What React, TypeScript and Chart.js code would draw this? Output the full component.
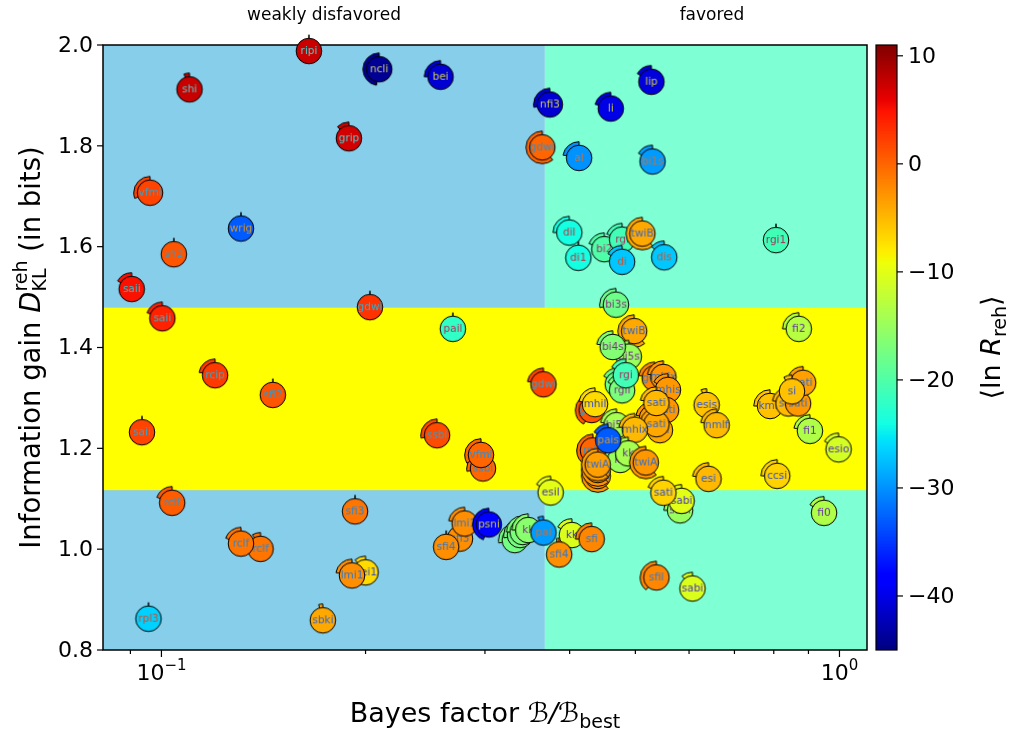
import React, { useEffect, useRef } from 'react';
import { Chart, registerables } from 'chart.js';
Chart.register(...registerables);

// ---------------- data ----------------
const modelLabels = [
  'ripi', 'shi', 'grip', 'ncli', 'bei', 'nfi3', 'li', 'lip', 'gdwi', 'al',
  'bi1s', 'vfmi', 'wrig', 'sfi2', 'saii', 'dil', 'di1', 'bi2', 'rgi', 'di',
  'twiB', 'dis', 'rgi1', 'gdwi', 'saii', 'bi3s', 'pail', 'rcip', 'sfi2', 'saii',
  'gdwi', 'ssbi', 'ssbi', 'vfmi', 'twiB', 'bi5s', 'bi4s', 'rgii', 'rgii', 'rgi',
  'gdwi', 'mhix', 'mhis', 'sati', 'sati', 'sati', 'sati', 'sati', 'gdwi', 'mhil',
  'bi5s', 'mhix', 'rcip', 'twiA', 'twiA', 'kk', 'kk', 'pais', 'twiA', 'twiA',
  'fi2', 'esis', 'nmlf', 'kmlf', 'sati', 'sati', 'sati', 'si', 'fi1', 'esio',
  'esi', 'ccsi', 'esil', 'sabi', 'sabi', 'sati', 'fi0', 'rclf', 'sfi3', 'rclf',
  'rclf', 'pei1', 'lmi1', 'rpl3', 'sbki', 'sfi3', 'lmi1', 'sfi4', 'psni', 'kk',
  'kk', 'kk', 'kk', 'pai', 'kk', 'sfi', 'sfi4', 'sfil', 'sabi',
];
const bayesFactor = [
  0.165, 0.110, 0.189, 0.2095, 0.258, 0.374, 0.460, 0.528, 0.3645, 0.413,
  0.530, 0.0962, 0.131, 0.1043, 0.0904, 0.3995, 0.412, 0.450, 0.478, 0.478,
  0.512, 0.5515, 0.806, 0.203, 0.1003, 0.468, 0.269, 0.120, 0.146, 0.0936,
  0.366, 0.255, 0.298, 0.296, 0.498, 0.489, 0.463, 0.471, 0.478, 0.484,
  0.534, 0.550, 0.5585, 0.555, 0.529, 0.5435, 0.537, 0.537, 0.431, 0.436,
  0.469, 0.499, 0.433, 0.440, 0.440, 0.475, 0.488, 0.456, 0.440, 0.518,
  0.871, 0.637, 0.659, 0.790, 0.841, 0.869, 0.884, 0.851, 0.9045, 0.997,
  0.641, 0.8095, 0.375, 0.582, 0.585, 0.550, 0.949, 0.1037, 0.193, 0.140,
  0.131, 0.200, 0.191, 0.0957, 0.173, 0.2756, 0.280, 0.263, 0.304, 0.332,
  0.338, 0.341, 0.3475, 0.366, 0.403, 0.431, 0.386, 0.537, 0.607,
];
const infoGain = [
  1.988, 1.912, 1.815, 1.952, 1.937, 1.882, 1.874, 1.927, 1.797, 1.776,
  1.769, 1.707, 1.636, 1.585, 1.516, 1.628, 1.578, 1.595, 1.614, 1.570,
  1.626, 1.579, 1.613, 1.480, 1.458, 1.485, 1.437, 1.345, 1.306, 1.232,
  1.327, 1.226, 1.160, 1.187, 1.4325, 1.382, 1.401, 1.327, 1.315, 1.345,
  1.339, 1.3415, 1.316, 1.276, 1.260, 1.236, 1.248, 1.290, 1.276, 1.2877,
  1.246, 1.237, 1.196, 1.145, 1.157, 1.177, 1.190, 1.216, 1.1677, 1.172,
  1.437, 1.286, 1.246, 1.284, 1.289, 1.289, 1.330, 1.313, 1.2347, 1.198,
  1.1395, 1.1454, 1.1125, 1.077, 1.0958, 1.112, 1.072, 1.092, 1.075, 1.0006,
  1.011, 0.954, 0.948, 0.862, 0.859, 1.021, 1.051, 1.0046, 1.049, 1.018,
  1.028, 1.034, 1.038, 1.033, 1.028, 1.020, 0.9895, 0.944, 0.922,
];
const lnRreh = [
  7.5, 7.5, 7, -44, -41, -41, -40, -40.5, 0, -30,
  -29.5, 2, -33, 1, 5, -24, -24, -20, -21, -27,
  -4, -27, -21, 3, 4, -18, -22, 2.5, 1, 2,
  2, 1.5, 0, 0, -4, -15, -16.5, -18, -17, -21,
  -2, -3, -3, -3, -3, -4, -4, -5, 1, -7,
  -14, -5, 0, -3, -3, -15, -14, -33, -3.5, -3,
  -13, -5.5, -5, -5.5, -5, -3, -3.5, -5.5, -13.5, -11,
  -5, -6.5, -10, -15, -10, -6.5, -13.5, 0.5, -1, -1,
  -1, -7, -2.5, -26.5, -4, -2.5, -2.5, -2.5, -38, -17.5,
  -17.5, -17, -16, -29.5, -10.5, -2, -2.5, -2, -10.5,
];
const wedgeDeg = [
  0, 20, 45, 170, 90, 100, 75, 60, 220, 80,
  60, 110, 0, 0, 60, 90, 0, 70, 70, 60,
  220, 50, 0, 0, 70, 100, 0, 80, 0, 0,
  80, 100, 100, 120, 220, 80, 80, 60, 60, 60,
  80, 80, 60, 60, 80, 60, 80, 80, 150, 80,
  80, 80, 150, 220, 220, 80, 80, 60, 220, 220,
  90, 20, 80, 90, 80, 60, 60, 30, 80, 60,
  80, 90, 60, 90, 60, 70, 60, 70, 0, 30,
  70, 40, 80, 0, 15, 0, 80, 0, 160, 100,
  100, 90, 90, 20, 60, 90, 10, 140, 40,
];

const xMajorTicks = [0.1, 1];
const xMajorTickLabels = ['\u22121', '0'];
const xMinorTicks = [0.09, 0.2, 0.3, 0.4, 0.5, 0.6, 0.7, 0.8, 0.9];
const yTicks = [0.8, 1.0, 1.2, 1.4, 1.6, 1.8, 2.0];
const cbTicks = [10, 0, -10, -20, -30, -40];
const regionSplitBF = 0.3677;
const yellowBand = [1.117, 1.479];
const regionTitles = ['weakly disfavored', 'favored'];

const X_MIN = 0.082, X_MAX = 1.098, Y_MIN = 0.8, Y_MAX = 2.0, C_MIN = -45, C_MAX = 11;

// ---------------- colormap ----------------
const JR = [[0, 0], [0.35, 0], [0.66, 1], [0.89, 1], [1, 0.5]];
const JG = [[0, 0], [0.125, 0], [0.375, 1], [0.64, 1], [0.91, 0], [1, 0]];
const JB = [[0, 0.5], [0.11, 1], [0.34, 1], [0.65, 0], [1, 0]];
function seg(p: number[][], t: number) {
  if (t <= p[0][0]) return p[0][1];
  for (let i = 1; i < p.length; i++) {
    if (t <= p[i][0]) {
      const [x0, y0] = p[i - 1];
      const [x1, y1] = p[i];
      return y0 + ((t - x0) / (x1 - x0)) * (y1 - y0);
    }
  }
  return p[p.length - 1][1];
}
function jet(v: number): [number, number, number] {
  const t = Math.min(1, Math.max(0, (v - C_MIN) / (C_MAX - C_MIN)));
  return [Math.round(seg(JR, t) * 255), Math.round(seg(JG, t) * 255), Math.round(seg(JB, t) * 255)];
}

const FONT = '"DejaVu Sans", "Liberation Sans", sans-serif';

function makeMarker(label: string, v: number, deg: number) {
  const S = 42;
  const c = document.createElement('canvas');
  c.width = S;
  c.height = S;
  const ctx = c.getContext('2d')!;
  const cx = S / 2, cy = S / 2, r = 12.8, R = 16.3;
  const [rr, gg, bb] = jet(v);
  const fill = `rgb(${rr},${gg},${bb})`;
  ctx.lineWidth = 1;
  ctx.strokeStyle = '#000';
  const a0 = -Math.PI / 2;
  const a1 = a0 - (deg * Math.PI) / 180;
  ctx.beginPath();
  ctx.moveTo(cx, cy);
  if (deg > 0) ctx.arc(cx, cy, R, a0, a1, true);
  else ctx.lineTo(cx, cy - R);
  ctx.closePath();
  ctx.fillStyle = fill;
  ctx.fill();
  ctx.stroke();
  ctx.beginPath();
  ctx.arc(cx, cy, r, 0, Math.PI * 2);
  ctx.fillStyle = fill;
  ctx.fill();
  ctx.stroke();
  const mix = (a: number, b: number) => Math.round(a * 0.8 + b * 0.2);
  ctx.fillStyle = `rgb(${mix(255 - rr, rr)},${mix(255 - gg, gg)},${mix(255 - bb, bb)})`;
  ctx.font = `10.5px ${FONT}`;
  ctx.textAlign = 'center';
  ctx.textBaseline = 'middle';
  ctx.fillText(label, cx, cy + 0.5);
  return c;
}

type Piece = { t: string; size: number; dy: number; italic?: boolean; stackWith?: Piece };
function pieceWidth(ctx: CanvasRenderingContext2D, p: Piece) {
  ctx.font = `${p.italic ? 'oblique ' : ''}${p.size}px ${FONT}`;
  let w = ctx.measureText(p.t).width;
  if (p.stackWith) {
    ctx.font = `${p.stackWith.italic ? 'oblique ' : ''}${p.stackWith.size}px ${FONT}`;
    w = Math.max(w, ctx.measureText(p.stackWith.t).width);
  }
  return w;
}
function drawPieces(ctx: CanvasRenderingContext2D, pieces: Piece[], cx: number, baseY: number) {
  const widths = pieces.map((p) => pieceWidth(ctx, p));
  const total = widths.reduce((a, b) => a + b, 0);
  let x = cx - total / 2;
  ctx.textAlign = 'left';
  ctx.textBaseline = 'alphabetic';
  pieces.forEach((p, i) => {
    ctx.font = `${p.italic ? 'oblique ' : ''}${p.size}px ${FONT}`;
    ctx.fillText(p.t, x, baseY + p.dy);
    if (p.stackWith) {
      const q = p.stackWith;
      ctx.font = `${q.italic ? 'oblique ' : ''}${q.size}px ${FONT}`;
      ctx.fillText(q.t, x, baseY + q.dy);
    }
    x += widths[i];
  });
}

const decorPlugin = {
  id: 'decor',
  beforeDatasetsDraw(chart: any) {
    const ctx: CanvasRenderingContext2D = chart.ctx;
    const { left, right, top, bottom } = chart.chartArea;
    const xs = chart.scales.x, ys = chart.scales.y, cs = chart.scales.cb;
    ctx.save();
    // backgrounds
    const xSplit = xs.getPixelForValue(regionSplitBF);
    ctx.fillStyle = 'rgb(135,206,235)';
    ctx.fillRect(left, top, xSplit - left, bottom - top);
    ctx.fillStyle = 'rgb(127,255,212)';
    ctx.fillRect(xSplit, top, right - xSplit, bottom - top);
    const yb0 = ys.getPixelForValue(yellowBand[1]);
    const yb1 = ys.getPixelForValue(yellowBand[0]);
    ctx.fillStyle = 'rgb(255,255,0)';
    ctx.fillRect(left, yb0, right - left, yb1 - yb0);
    // frame
    ctx.strokeStyle = '#000';
    ctx.lineWidth = 1.5;
    ctx.strokeRect(left, top, right - left, bottom - top);
    // y ticks
    ctx.fillStyle = '#000';
    ctx.lineWidth = 1.2;
    ctx.font = `22px ${FONT}`;
    ctx.textAlign = 'right';
    ctx.textBaseline = 'middle';
    yTicks.forEach((v) => {
      const y = ys.getPixelForValue(v);
      ctx.beginPath();
      ctx.moveTo(left, y);
      ctx.lineTo(left - 6, y);
      ctx.stroke();
      ctx.fillText(v.toFixed(1), left - 10, y + 1);
    });
    // x ticks
    xMinorTicks.forEach((v) => {
      const x = xs.getPixelForValue(v);
      ctx.beginPath();
      ctx.moveTo(x, bottom);
      ctx.lineTo(x, bottom + 4);
      ctx.stroke();
    });
    xMajorTicks.forEach((v, i) => {
      const x = xs.getPixelForValue(v);
      ctx.beginPath();
      ctx.moveTo(x, bottom);
      ctx.lineTo(x, bottom + 7);
      ctx.stroke();
      drawPieces(ctx, [
        { t: '10', size: 22, dy: 0 },
        { t: xMajorTickLabels[i], size: 15, dy: -10 },
      ], x, bottom + 30);
    });
    // axis labels
    drawPieces(ctx, [
      { t: 'Bayes factor ', size: 27, dy: 0 },
      { t: '\u212C/\u212C', size: 27, dy: 0, italic: true },
      { t: 'best', size: 19, dy: 6 },
    ], (left + right) / 2, 722);
    ctx.save();
    ctx.translate(31, (top + bottom) / 2);
    ctx.rotate(-Math.PI / 2);
    drawPieces(ctx, [
      { t: 'Information gain ', size: 27.5, dy: 0 },
      { t: 'D', size: 27.5, dy: 0, italic: true },
      { t: 'reh', size: 19, dy: -13, stackWith: { t: 'KL', size: 19, dy: 6 } },
      { t: ' (in bits)', size: 27.5, dy: 0 },
    ], 0, 9);
    ctx.restore();
    // region titles
    ctx.font = `17px ${FONT}`;
    ctx.textAlign = 'center';
    ctx.textBaseline = 'alphabetic';
    ctx.fillText(regionTitles[0], 324, 20);
    ctx.fillText(regionTitles[1], 712, 20);
    // colorbar
    const cbL = 876, cbR = 897;
    for (let y = Math.floor(top); y < bottom; y++) {
      const v = cs.getValueForPixel(y + 0.5);
      const [r, g, b] = jet(v);
      ctx.fillStyle = `rgb(${r},${g},${b})`;
      ctx.fillRect(cbL, y, cbR - cbL, 1);
    }
    ctx.lineWidth = 1.2;
    ctx.strokeStyle = '#000';
    ctx.strokeRect(cbL, top, cbR - cbL, bottom - top);
    ctx.fillStyle = '#000';
    ctx.font = `22px ${FONT}`;
    ctx.textAlign = 'left';
    ctx.textBaseline = 'middle';
    cbTicks.forEach((v) => {
      const y = cs.getPixelForValue(v);
      ctx.beginPath();
      ctx.moveTo(cbR, y);
      ctx.lineTo(cbR + 6, y);
      ctx.stroke();
      const s = v < 0 ? '\u2212' + Math.abs(v) : String(v);
      ctx.fillText(s, cbR + 11, y + 1);
    });
    ctx.save();
    ctx.translate(991, (top + bottom) / 2);
    ctx.rotate(-Math.PI / 2);
    drawPieces(ctx, [
      { t: '\u27E8ln ', size: 27, dy: 0 },
      { t: 'R', size: 27, dy: 0, italic: true },
      { t: 'reh', size: 19, dy: 6 },
      { t: '\u27E9', size: 27, dy: 0 },
    ], 0, 9);
    ctx.restore();
    ctx.restore();
  },
};

export default function App() {
  const ref = useRef<HTMLCanvasElement>(null);
  useEffect(() => {
    if (!ref.current) return;
    const markers = modelLabels.map((l, i) => makeMarker(l, lnRreh[i], wedgeDeg[i]));
    const chart = new Chart(ref.current, {
      type: 'scatter',
      data: {
        datasets: [
          {
            data: bayesFactor.map((x, i) => ({ x, y: infoGain[i] })),
            pointStyle: markers as any,
            pointRadius: 13,
            pointHoverRadius: 13,
            clip: false as any,
          },
        ],
      },
      options: {
        responsive: false,
        animation: false,
        events: [],
        layout: { padding: { left: 103, top: 45, right: 151, bottom: 83 } },
        scales: {
          x: { type: 'logarithmic', min: X_MIN, max: X_MAX, display: false },
          y: { type: 'linear', min: Y_MIN, max: Y_MAX, display: false },
          cb: { type: 'linear', axis: 'y', min: C_MIN, max: C_MAX, display: false } as any,
        },
        plugins: { legend: { display: false }, tooltip: { enabled: false } },
      },
      plugins: [decorPlugin],
    });
    return () => chart.destroy();
  }, []);
  return (
    <div style={{ position: 'absolute', left: 0, top: 0, width: 1018, height: 733, background: '#fff' }}>
      <canvas ref={ref} width={1018} height={733} style={{ display: 'block' }} />
    </div>
  );
}
